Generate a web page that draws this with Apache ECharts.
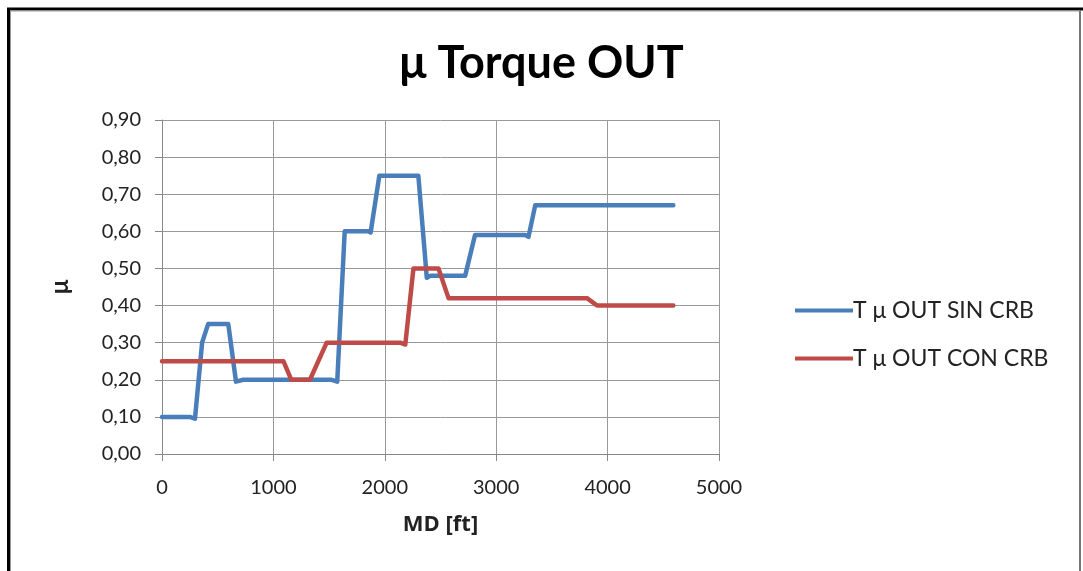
<!DOCTYPE html>
<html>
<head>
<meta charset="utf-8">
<script src="https://cdn.jsdelivr.net/npm/echarts@6/dist/echarts.min.js"></script>
<style>
  html, body { margin: 0; padding: 0; background: #fff; }
  #chart { width: 1083px; height: 571px; }
</style>
</head>
<body>
<div id="chart"></div>
<script>
// 数据：MD [ft] 与 μ
const sinCrb = [
    [0, 0.10], [250, 0.10], [296, 0.095], [360, 0.30], [414, 0.35], [595, 0.35],
    [664, 0.195], [730, 0.20], [1523, 0.20], [1573, 0.195], [1640, 0.60], [1852, 0.60],
    [1873, 0.597], [1951, 0.75], [2301, 0.75], [2377, 0.475], [2408, 0.48], [2721, 0.48],
    [2810, 0.59], [3260, 0.59], [3290, 0.585], [3350, 0.67], [4590, 0.67]
]
const conCrb = [
    [0, 0.25], [1071, 0.25], [1090, 0.25], [1161, 0.20], [1328, 0.20], [1340, 0.195],
    [1478, 0.30], [2139, 0.30], [2184, 0.295], [2257, 0.50], [2482, 0.50], [2572, 0.42],
    [3815, 0.42], [3905, 0.40], [4590, 0.40]
]
const seriesNames = ['T μ OUT SIN CRB', 'T μ OUT CON CRB']
const seriesColors = ['#4a7ebb', '#be4b48']

const myChart = echarts.init(document.getElementById('chart'))

const font = 'Lato, "Open Sans", sans-serif'

const option = {
    backgroundColor: '#fff',
    animation: false,
    title: {
        text: 'μ Torque OUT',
        left: 'center',
        top: 36,
        textStyle: { fontFamily: font, fontSize: 45, fontWeight: 'bold', color: '#000' }
    },
    legend: {
        orient: 'vertical',
        left: 790,
        top: 294,
        itemGap: 25,
        itemWidth: 58,
        itemHeight: 4,
        icon: 'rect',
        textStyle: { fontFamily: font, fontSize: 23, color: '#222', padding: [0, 0, 0, -5] },
        data: seriesNames
    },
    grid: { left: 162, right: 364, top: 120, bottom: 117 },
    xAxis: {
        type: 'value',
        min: 0, max: 5000, interval: 1000,
        name: 'MD [ft]',
        nameLocation: 'middle',
        nameGap: 60,
        nameTextStyle: { fontFamily: '"Open Sans", sans-serif', fontSize: 22, fontWeight: 'bold', color: '#222' },
        axisLine: { show: true, lineStyle: { color: '#888', width: 1 } },
        axisTick: { show: true, length: 7, lineStyle: { color: '#888' } },
        axisLabel: { fontFamily: font, fontSize: 20, color: '#222', margin: 24, formatter: v => String(v) },
        splitLine: { show: true, lineStyle: { color: '#999', width: 1 } }
    },
    yAxis: {
        type: 'value',
        min: 0, max: 0.9, interval: 0.1,
        name: 'μ',
        nameLocation: 'middle',
        nameGap: 90,
        nameRotate: 90,
        nameTextStyle: { fontFamily: font, fontSize: 24, fontWeight: 'bold', color: '#222' },
        axisLine: { show: true, lineStyle: { color: '#888', width: 1 } },
        axisTick: { show: true, length: 7, lineStyle: { color: '#888' } },
        axisLabel: {
            fontFamily: font, fontSize: 20, color: '#222', margin: 21,
            formatter: v => v.toFixed(2).replace('.', ',')
        },
        splitLine: { show: true, lineStyle: { color: '#999', width: 1 } }
    },
    series: [
        {
            name: seriesNames[0],
            type: 'line',
            data: sinCrb,
            showSymbol: false,
            symbol: 'none',
            color: seriesColors[0],
            lineStyle: { width: 4.5, join: 'round', cap: 'round' }
        },
        {
            name: seriesNames[1],
            type: 'line',
            data: conCrb,
            showSymbol: false,
            symbol: 'none',
            color: seriesColors[1],
            lineStyle: { width: 4.5, join: 'round', cap: 'round' }
        }
    ],
    graphic: [
        // 外框
        { type: 'line', shape: { x1: 7, y1: 9, x2: 1083, y2: 9 }, style: { stroke: '#000', lineWidth: 3 } },
        { type: 'line', shape: { x1: 8.5, y1: 8, x2: 8.5, y2: 571 }, style: { stroke: '#000', lineWidth: 3 } },
        { type: 'line', shape: { x1: 10, y1: 11, x2: 1080, y2: 11 }, style: { stroke: '#999', lineWidth: 1 } },
        { type: 'line', shape: { x1: 10.5, y1: 11, x2: 10.5, y2: 571 }, style: { stroke: '#999', lineWidth: 1 } },
        { type: 'line', shape: { x1: 1080, y1: 11, x2: 1080, y2: 571 }, style: { stroke: '#777', lineWidth: 2 } }
    ]
}

myChart.setOption(option)
</script>
</body>
</html>
